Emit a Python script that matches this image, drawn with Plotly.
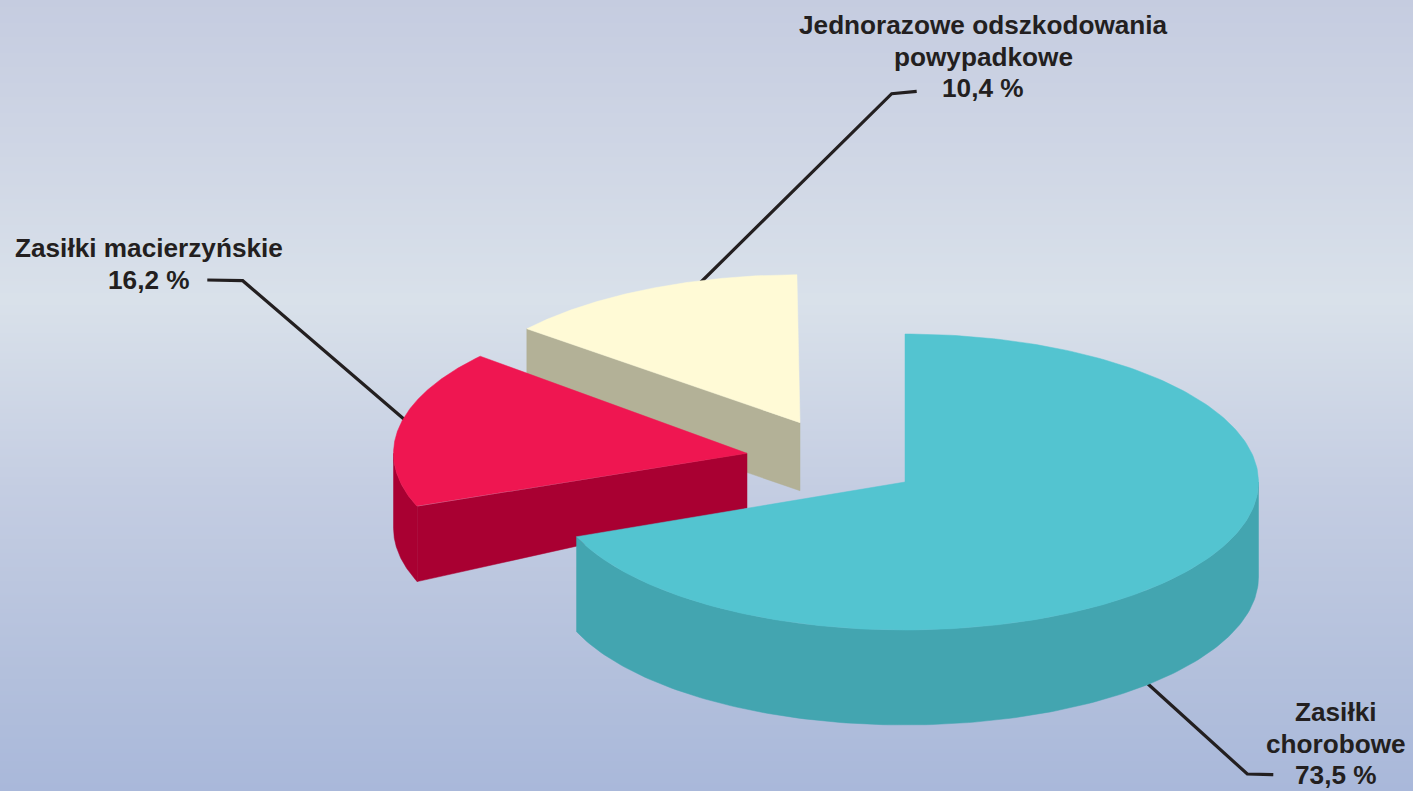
import numpy as np
import plotly.graph_objects as go

# ---- chart data -------------------------------------------------------
categories = ["Zasiłki chorobowe", "Zasiłki macierzyńskie", "Jednorazowe odszkodowania powypadkowe"]
shares_pct = [73.5, 16.2, 10.4]                 # printed values
drawn_start_deg = [0.0, 248.9, 309.4]           # angles as actually drawn in the picture
drawn_sweep_deg = [248.3, 62.1, 50.1]
label_lines = [
    ["Zasiłki", "chorobowe", "73,5 %"],
    ["Zasiłki macierzyńskie", "16,2 %"],
    ["Jednorazowe odszkodowania", "powypadkowe", "10,4 %"],
]

# ---- styling / layout -------------------------------------------------
W, H = 1413, 791
RX, RY = 353.5, 148
slice_centers = [(905, 482), (747, 453.3), (800, 422.7)]
rim_depth = [95, 75, 68]
center_depth = [95, 55, 68]
top_colors = ["#53c4d0", "#ef1651", "#fffad6"]
wall_colors = ["#43a5b0", "#a90032", "#b3b197"]
TEXT = "#231f20"
label_centers_x = [1336, 149, 983]
label_lines_y = [[712, 744, 775], [248, 280], [25, 57, 88]]
leader_x = [[1148, 1247.3, 1273.3], [405, 242.7, 207.3], [700, 891.7, 916.7]]
leader_y = [[684, 774, 774.7], [420, 280.7, 280], [283, 93.7, 91.3]]
bg_scale = [[0, "#c5cce0"], [0.19, "#cfd6e5"], [0.38, "#d9e1ea"], [0.62, "#c4cde2"], [0.85, "#b3c0dc"], [1, "#a9b8da"]]


def rim(center, a0, a1, dy=0.0, n=160):
    t = np.radians(np.linspace(a0, a1, n))
    return center[0] + RX * np.sin(t), center[1] - RY * np.cos(t) + dy


def poly(x, y, color):
    return go.Scatter(x=x, y=y, mode="lines", fill="toself", fillcolor=color,
                      line=dict(color=color, width=0.5), hoverinfo="skip", showlegend=False)


starts = np.array(drawn_start_deg)
ends = starts + np.array(drawn_sweep_deg)

fig = go.Figure()

# background gradient
rows = np.arange(0, H + 2, 2)
fig.add_trace(go.Heatmap(x=[0, W], y=rows, z=[[r, r] for r in rows], colorscale=bg_scale,
                         zmin=0, zmax=H, showscale=False, hoverinfo="skip"))

# leader lines, behind the slices
for lx, ly in zip(leader_x, leader_y):
    fig.add_trace(go.Scatter(x=lx, y=ly, mode="lines", line=dict(color=TEXT, width=3.2),
                             hoverinfo="skip", showlegend=False))

# slices, back to front
for i in [2, 1, 0]:
    c, a0, a1 = slice_centers[i], starts[i], ends[i]
    # radial side wall on the visible edge (cream, red)
    if i in (1, 2):
        ex, ey = rim(c, a0, a0, n=1)
        ex, ey = ex[0], ey[0]
        fig.add_trace(poly([c[0], ex, ex, c[0], c[0]],
                           [c[1], ey, ey + rim_depth[i], c[1] + center_depth[i], c[1]],
                           wall_colors[i]))
    # outer curved wall, front-facing part only
    w0, w1 = max(a0, 90), min(a1, 270)
    if w1 > w0 and i != 2:
        tx, ty = rim(c, w0, w1)
        bx, by = rim(c, w1, w0, dy=rim_depth[i])
        fig.add_trace(poly(np.r_[tx, bx, tx[0]], np.r_[ty, by, ty[0]], wall_colors[i]))
    # top face
    tx, ty = rim(c, a0, a1, n=240)
    fig.add_trace(poly(np.r_[c[0], tx, c[0]], np.r_[c[1], ty, c[1]], top_colors[i]))

# labels
annotations = []
for lines, xc, ys in zip(label_lines, label_centers_x, label_lines_y):
    for text, y in zip(lines, ys):
        annotations.append(dict(x=xc, y=y, text=f"<b>{text}</b>", showarrow=False, xref="x", yref="y",
                                xanchor="center", yanchor="middle",
                                font=dict(family="Liberation Sans", size=26.2, color=TEXT)))

fig.update_layout(width=W, height=H, margin=dict(l=0, r=0, t=0, b=0), showlegend=False,
                  paper_bgcolor="#d0d7e6", plot_bgcolor="#d0d7e6", annotations=annotations,
                  xaxis=dict(range=[0, W], visible=False, fixedrange=True),
                  yaxis=dict(range=[H, 0], visible=False, fixedrange=True))

fig.write_html("out.html", config={"displayModeBar": False},
               post_script="document.body.style.margin='0';document.documentElement.style.overflow='hidden';")
